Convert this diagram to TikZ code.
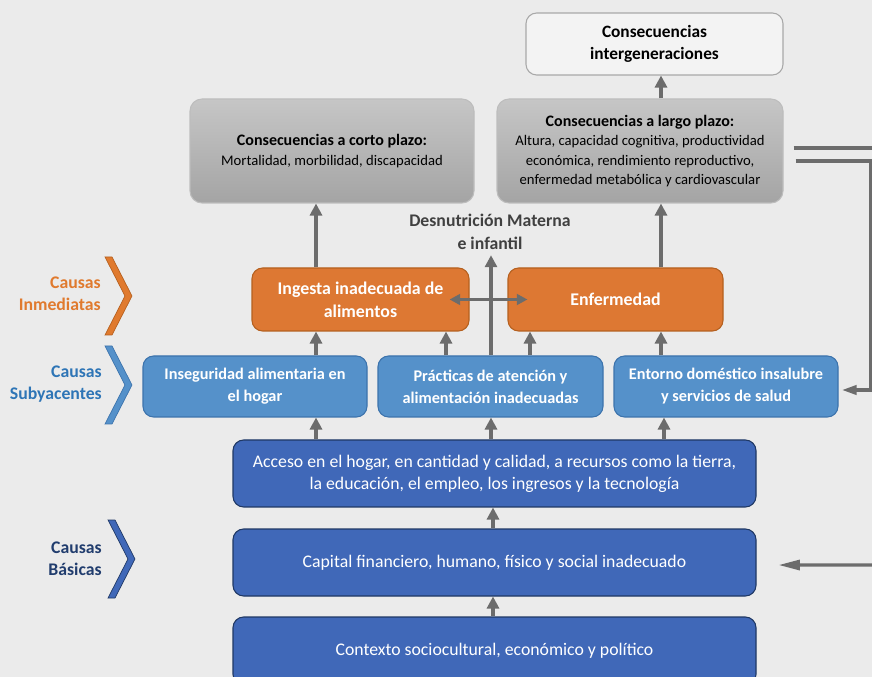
\documentclass[tikz,border=0pt]{standalone}
\usepackage{fontspec}
\setmainfont{Carlito}
\usetikzlibrary{arrows.meta}
\definecolor{bg}{HTML}{EBEBEB}
\definecolor{arrC}{HTML}{6C6C6C}
\definecolor{orgF}{HTML}{DD7833}
\definecolor{orgD}{HTML}{B5601F}
\definecolor{bluF}{HTML}{5591CA}
\definecolor{bluD}{HTML}{3C73AC}
\definecolor{navF}{HTML}{4068B8}
\definecolor{navD}{HTML}{1F3864}
\definecolor{grT}{HTML}{C6C6C6}
\definecolor{grB}{HTML}{A4A4A4}
\definecolor{grD}{HTML}{BDBDBD}
\definecolor{intF}{HTML}{F3F3F3}
\definecolor{intD}{HTML}{A8A8A8}
\definecolor{lblO}{HTML}{E07A2E}
\definecolor{lblB}{HTML}{2E75B6}
\definecolor{lblN}{HTML}{213D6E}
\definecolor{txtG}{HTML}{404040}
\begin{document}
\begin{tikzpicture}[x=0.75pt,y=-0.75pt,
  gbox/.style={draw=grD, line width=0.8pt, rounded corners=9pt, top color=grT, bottom color=grB, align=center, inner sep=0pt, text=black, font=\fontsize{11}{14.5}\selectfont},
  hdr/.style={font=\fontsize{12}{14.5}\selectfont\bfseries},
  ibox/.style={draw=intD, line width=0.8pt, rounded corners=8pt, fill=intF, align=center, inner sep=0pt, text=black, font=\fontsize{13}{16.5}\selectfont\bfseries},
  obox/.style={draw=orgD, line width=0.8pt, rounded corners=8pt, fill=orgF, align=center, inner sep=0pt, text=white, font=\fontsize{13.4}{17}\selectfont\bfseries, minimum height=47.25pt},
  sbox/.style={draw=bluD, line width=0.8pt, rounded corners=8pt, fill=bluF, align=center, inner sep=0pt, text=white, font=\fontsize{12.2}{16.5}\selectfont\bfseries, minimum height=45.75pt},
  nbox/.style={draw=navD, line width=0.8pt, rounded corners=8pt, fill=navF, align=center, inner sep=0pt, text=white, font=\fontsize{13.3}{16.5}\selectfont, minimum width=392.25pt, minimum height=50.25pt},
  lbl/.style={align=right, anchor=east, font=\fontsize{13.3}{16.5}\selectfont\bfseries, inner sep=0pt},
  arr/.style={draw=arrC, line width=3.3pt, -{Triangle[width=9pt,length=9pt]}},
  darr/.style={draw=arrC, line width=2.6pt, {Triangle[width=8pt,length=8pt]}-{Triangle[width=8pt,length=8pt]}},
  rline/.style={draw=arrC, line width=2.3pt},
  larr/.style={draw=arrC, line width=2.3pt, -{Triangle[width=7.5pt,length=16pt]}}
]
\clip (0,0) rectangle (872,677);
\fill[bg] (0,0) rectangle (872,677);

% top consequences
\node[ibox, minimum width=192.75pt, minimum height=46.5pt] (inter) at (654.5,44) {Consecuencias\\intergeneraciones};
\node[gbox, minimum width=213pt, minimum height=78pt] (corto) at (332,151) {{\fontsize{12}{14.5}\selectfont\bfseries Consecuencias a corto plazo:}\\Mortalidad, morbilidad, discapacidad};
\node[gbox, minimum width=214.5pt, minimum height=78pt] (largo) at (640,151) {{\fontsize{12}{14.5}\selectfont\bfseries Consecuencias a largo plazo:}\\Altura, capacidad cognitiva, productividad\\econ\'omica, rendimiento reproductivo,\\enfermedad metab\'olica y cardiovascular};

\node[align=center, text=txtG, font=\fontsize{13.3}{17}\selectfont\bfseries, inner sep=4pt] (desn) at (490,232) {Desnutrici\'on Materna\\e infantil};

% immediate causes
\node[obox, minimum width=162.75pt] (ingesta) at (360.5,299.5) {Ingesta inadecuada de\\alimentos};
\node[obox, minimum width=161.25pt] (enf) at (615.5,299.5) {Enfermedad};

% underlying causes
\node[sbox, minimum width=168pt] (inseg) at (255,386.5) {Inseguridad alimentaria en\\el hogar};
\node[sbox, minimum width=168.75pt] (prac) at (490.5,386.5) {Pr\'acticas de atenci\'on y\\alimentaci\'on inadecuadas};
\node[sbox, minimum width=168pt] (ent) at (726,386.5) {Entorno dom\'estico insalubre\\y servicios de salud};

% basic causes
\node[nbox] (acceso) at (494.5,473.5) {Acceso en el hogar, en cantidad y calidad, a recursos como la tierra,\\la educaci\'on, el empleo, los ingresos y la tecnolog\'ia};
\node[nbox] (capital) at (494.5,562.5) {Capital financiero, humano, f\'isico y social inadecuado};
\node[nbox, minimum height=51pt] (contexto) at (494.5,651) {Contexto sociocultural, econ\'omico y pol\'itico};

% side labels and chevrons
\node[lbl, text=lblO] (lblI) at (101,294) {Causas\\Inmediatas};
\node[lbl, text=lblB] (lblS) at (102,384) {Causas\\Subyacentes};
\node[lbl, text=lblN] (lblBa) at (102,559) {Causas\\B\'asicas};
\filldraw[fill=lblO, draw=orgD, line width=0.5pt] (105,257) -- (112,257) -- (132,296) -- (112,335) -- (105,335) -- (125,296) -- cycle;
\filldraw[fill=bluF, draw=bluD, line width=0.5pt] (105,346) -- (112,346) -- (132,385) -- (112,424) -- (105,424) -- (125,385) -- cycle;
\filldraw[fill=navF, draw=navD, line width=0.5pt] (108,520) -- (115,520) -- (135,559) -- (115,598) -- (108,598) -- (128,559) -- cycle;

% vertical arrows
\draw[arr] (316,0 |- ingesta.north) -- (316,0 |- corto.south);
\draw[arr] (661,0 |- enf.north) -- (661,0 |- largo.south);
\draw[arr] (661,0 |- largo.north) -- (661,0 |- inter.south);
\draw[arr] (316,0 |- inseg.north) -- (316,0 |- ingesta.south);
\draw[arr] (446,0 |- prac.north) -- (446,0 |- ingesta.south);
\draw[arr] (530,0 |- prac.north) -- (530,0 |- enf.south);
\draw[arr] (661,0 |- ent.north) -- (661,0 |- enf.south);
\draw[arr] (316,0 |- acceso.north) -- (316,0 |- inseg.south);
\draw[arr] (491,0 |- acceso.north) -- (491,0 |- prac.south);
\draw[arr] (664,0 |- acceso.north) -- (664,0 |- ent.south);
\draw[arr] (493,0 |- capital.north) -- (493,0 |- acceso.south);
\draw[arr] (493,0 |- contexto.north) -- (493,0 |- capital.south);
\draw[arr] (491,0 |- prac.north) -- (491,0 |- desn.south);
\draw[darr] ([xshift=-15pt]ingesta.east) -- ([xshift=15pt]enf.west);

% right feedback lines
\coordinate (rtop) at (873,148);
\coordinate (rbend) at (871,390);
\coordinate (enttip) at (842,390);
\coordinate (capin) at (873,565);
\draw[rline] ([xshift=7.5pt,yshift=2.25pt]largo.east) -- (rtop);
\draw[rline, -{Triangle[width=7pt,length=11pt]}] ([xshift=9pt,yshift=-7.5pt]largo.east) -| (rbend) -- (enttip);
\draw[larr] (capin) -- ([xshift=16.5pt,yshift=-1.9pt]capital.east);
\end{tikzpicture}
\end{document}
